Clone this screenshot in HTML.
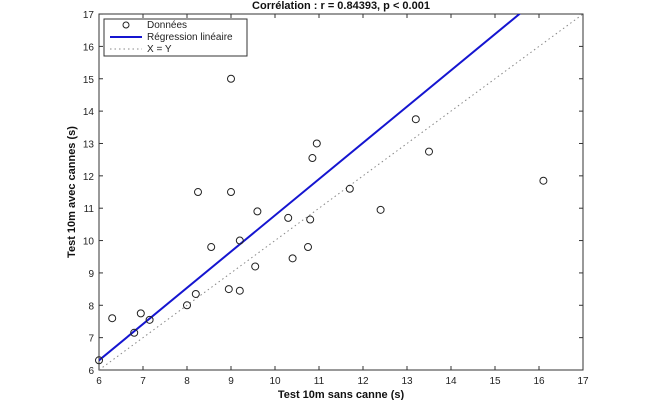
<!DOCTYPE html><html><head><meta charset="utf-8"><style>body{margin:0;background:#fff}svg{font-family:"Liberation Sans",sans-serif}</style></head><body>
<svg id="c" width="655" height="400"></svg>
<script>
const xs=[6.0,6.3,6.8,6.95,7.15,8.0,8.2,8.25,8.55,8.95,9.0,9.0,9.2,9.2,9.55,9.6,10.3,10.4,10.75,10.8,10.85,10.95,11.7,12.4,13.2,13.5,16.1];
const ys=[6.3,7.6,7.15,7.75,7.55,8.0,8.35,11.5,9.8,8.5,11.5,15.0,8.45,10.0,9.2,10.9,10.7,9.45,9.8,10.65,12.55,13.0,11.6,10.95,13.75,12.75,11.85];
const xTicks=[6,7,8,9,10,11,12,13,14,15,16,17];
const yTicks=[6,7,8,9,10,11,12,13,14,15,16,17];
const regSlope=1.12, regIntercept=-0.42;
const NS="http://www.w3.org/2000/svg",s=document.getElementById('c');
const X=v=>99+(v-6)*44, Y=v=>370-(v-6)*32.36;
function mk(t,a,p){const e=document.createElementNS(NS,t);for(const k in a)e.setAttribute(k,a[k]);(p||s).appendChild(e);return e;}
let e;
e=mk('rect',{x:99,y:14,width:484,height:356,fill:'#fff',stroke:'#333','stroke-width':1});


const clip=mk('clipPath',{id:'cp'});mk('rect',{x:99,y:14,width:484,height:356},clip);
xTicks.forEach(t=>{mk('line',{x1:X(t),x2:X(t),y1:370,y2:366,stroke:'#333'});mk('line',{x1:X(t),x2:X(t),y1:14,y2:18,stroke:'#333'});
e=mk('text',{x:X(t),y:384,'font-size':10,'text-anchor':'middle',fill:'#222'});e.textContent=t;

});
yTicks.forEach(t=>{mk('line',{x1:99,x2:103,y1:Y(t),y2:Y(t),stroke:'#333'});mk('line',{x1:583,x2:579,y1:Y(t),y2:Y(t),stroke:'#333'});
e=mk('text',{x:94,y:Y(t)+4,'font-size':10,'text-anchor':'end',fill:'#222'});e.textContent=t;

});
e=mk('line',{x1:X(6),y1:Y(6),x2:X(17),y2:Y(17),stroke:'#888','stroke-dasharray':'1.5,3','clip-path':'url(#cp)'});


e=mk('line',{x1:X(6),y1:Y(6*regSlope+regIntercept),x2:X(17),y2:Y(17*regSlope+regIntercept),stroke:'#1515d0','stroke-width':2,'clip-path':'url(#cp)'});


xs.forEach((v,i)=>{e=mk('circle',{cx:X(v),cy:Y(ys[i]),r:3.5,fill:'none',stroke:'#222','stroke-width':1});

});
const lg=mk('g',{});
mk('rect',{x:104,y:19,width:143,height:37,fill:'#fff',stroke:'#333'},lg);
mk('circle',{cx:126,cy:25,r:3,fill:'none',stroke:'#222'},lg);
mk('line',{x1:110,x2:142,y1:37,y2:37,stroke:'#1515d0','stroke-width':2},lg);
mk('line',{x1:110,x2:142,y1:49,y2:49,stroke:'#888','stroke-dasharray':'1.5,3'},lg);
[['Données',28],['Régression linéaire',40],['X = Y',52]].forEach(([t,y])=>{e=mk('text',{x:147,y:y,'font-size':10,fill:'#222'},lg);e.textContent=t;

});
e=mk('text',{x:341,y:9,'font-size':11,'font-weight':'bold','text-anchor':'middle',fill:'#111'});e.textContent='Corrélation : r = 0.84393, p < 0.001';


e=mk('text',{x:341,y:398,'font-size':11,'font-weight':'bold','text-anchor':'middle',fill:'#111'});e.textContent='Test 10m sans canne (s)';


e=mk('text',{x:0,y:0,'font-size':11,'font-weight':'bold','text-anchor':'middle',fill:'#111',transform:'translate(75,192) rotate(-90)'});e.textContent='Test 10m avec cannes (s)';


</script></body></html>
